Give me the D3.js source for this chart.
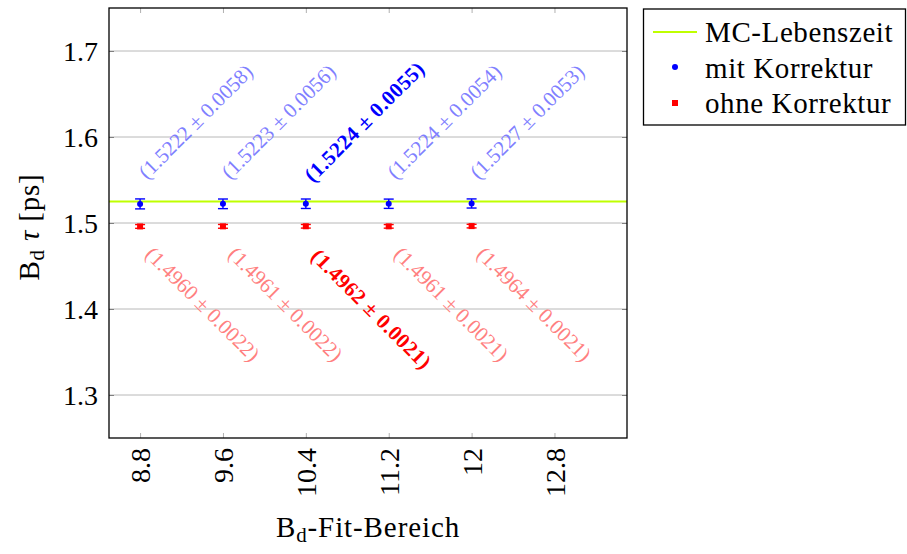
<!DOCTYPE html>
<html><head><meta charset="utf-8">
<script src="https://cdn.jsdelivr.net/npm/d3@7"></script>
<style>body{margin:0;background:#fff}svg{display:block}</style>
</head><body><div id="c"></div>
<script>
const xValues = [8.8, 9.6, 10.4, 11.2, 12];
const withCorr = [1.5222, 1.5223, 1.5224, 1.5224, 1.5227];
const withCorrErr = [0.0058, 0.0056, 0.0055, 0.0054, 0.0053];
const withoutCorr = [1.4960, 1.4961, 1.4962, 1.4961, 1.4964];
const withoutCorrErr = [0.0022, 0.0022, 0.0021, 0.0021, 0.0021];
const mcLifetime = 1.525;
const highlightIndex = 2;
const xTicks = [8.8, 9.6, 10.4, 11.2, 12, 12.8];
const yTicks = [1.3, 1.4, 1.5, 1.6, 1.7];
const legendLabels = ["MC-Lebenszeit", "mit Korrektur", "ohne Korrektur"];

const FONT = "'Liberation Serif', 'DejaVu Serif', 'Times New Roman', serif";
const W = 907, H = 554;
const L = 109, R = 627, T = 8, B = 438;
const svg = d3.select("#c").append("svg").attr("width", W).attr("height", H)
  .attr("font-family", FONT).style("font-family", FONT);
const x = d3.scaleLinear().domain([8.5, 13.5]).range([L, R]);
const y = d3.scaleLinear().domain([1.25, 1.75]).range([B, T]);

// grid
svg.append("g").selectAll("line").data(yTicks).join("line")
  .attr("x1", L).attr("x2", R).attr("y1", d => y(d)).attr("y2", d => y(d))
  .attr("stroke", "#b8b8b8").attr("stroke-width", 1);

// axes ticks (inner, gray)
const yAxL = d3.axisLeft(y).tickValues(yTicks).tickSize(-5).tickFormat(d3.format(".1f")).tickPadding(12);
const gy = svg.append("g").attr("transform", `translate(${L},0)`).call(yAxL);
gy.attr("font-family", FONT);
gy.select(".domain").remove();
gy.selectAll("line").attr("stroke", "#808080");
gy.selectAll("text").attr("font-size", 28).attr("fill", "#000").attr("x", -11).attr("dy", "0.35em")
  .style("font-family", FONT);
const gyr = svg.append("g").attr("transform", `translate(${R},0)`).call(d3.axisRight(y).tickValues(yTicks).tickSize(-5).tickFormat(""));
gyr.select(".domain").remove(); gyr.selectAll("line").attr("stroke", "#808080");

const gx = svg.append("g").attr("transform", `translate(0,${B})`)
  .call(d3.axisBottom(x).tickValues(xTicks).tickSize(-5).tickFormat(d => d3.format("")(d)));
gx.attr("font-family", FONT);
gx.select(".domain").remove();
gx.selectAll("line").attr("stroke", "#b0b0b0");
gx.selectAll("text").attr("font-size", 28).attr("fill", "#000").style("font-family", FONT)
  .attr("transform", "rotate(-90)").attr("text-anchor", "end")
  .attr("x", -10).attr("y", 0).attr("dy", "0.35em");
const gxt = svg.append("g").attr("transform", `translate(0,${T})`)
  .call(d3.axisTop(x).tickValues(xTicks).tickSize(-5).tickFormat(""));
gxt.select(".domain").remove(); gxt.selectAll("line").attr("stroke", "#b0b0b0");

// MC line
svg.append("line").attr("x1", L).attr("x2", R).attr("y1", y(mcLifetime)).attr("y2", y(mcLifetime))
  .attr("stroke", "#bfff00").attr("stroke-width", 2.2);

// error bars
function errBars(vals, errs, color, cap) {
  const g = svg.append("g").attr("stroke", color).attr("stroke-width", 1.4);
  xValues.forEach((xv, i) => {
    const cx = x(xv), y0 = y(vals[i] - errs[i]), y1 = y(vals[i] + errs[i]);
    g.append("line").attr("x1", cx).attr("x2", cx).attr("y1", y0).attr("y2", y1);
    g.append("line").attr("x1", cx - cap).attr("x2", cx + cap).attr("y1", y0).attr("y2", y0);
    g.append("line").attr("x1", cx - cap).attr("x2", cx + cap).attr("y1", y1).attr("y2", y1);
  });
}
errBars(withCorr, withCorrErr, "#0000ff", 5);
errBars(withoutCorr, withoutCorrErr, "#ff0000", 5);
svg.append("g").selectAll("circle").data(withCorr).join("circle")
  .attr("cx", (d, i) => x(xValues[i])).attr("cy", d => y(d)).attr("r", 3).attr("fill", "#0000ff");
svg.append("g").selectAll("rect").data(withoutCorr).join("rect")
  .attr("x", (d, i) => x(xValues[i]) - 3).attr("y", d => y(d) - 3).attr("width", 6).attr("height", 6).attr("fill", "#ff0000");

// annotations
const fmt4 = d3.format(".4f");
xValues.forEach((xv, i) => {
  const hi = i === highlightIndex;
  const bx = x(xv) + 7, by = y(1.5555) + (hi ? 8 : 5);
  svg.append("text").attr("transform", `translate(${bx},${by}) rotate(-45)`)
    .attr("font-size", 21).attr("font-weight", hi ? "bold" : "normal")
    .attr("letter-spacing", hi ? 0.5 : 0)
    .attr("fill", hi ? "#0000ff" : "#8080ff")
    .text(`(${fmt4(withCorr[i])} ± ${fmt4(withCorrErr[i])})`);
  const rx = x(xv) + 4, ry = y(1.4715) + (hi ? 10 : 8);
  svg.append("text").attr("transform", `translate(${rx},${ry}) rotate(45)`)
    .attr("font-size", 21).attr("font-weight", hi ? "bold" : "normal")
    .attr("letter-spacing", hi ? 0.5 : 0)
    .attr("fill", hi ? "#ff0000" : "#ff8080")
    .text(`(${fmt4(withoutCorr[i])} ± ${fmt4(withoutCorrErr[i])})`);
});

// frame
svg.append("rect").attr("x", L).attr("y", T).attr("width", R - L).attr("height", B - T)
  .attr("fill", "none").attr("stroke", "#000").attr("stroke-width", 1.3);

// axis titles
const yl = svg.append("text").attr("transform", `translate(39,227) rotate(-90)`)
  .attr("text-anchor", "middle").attr("font-size", 29).attr("letter-spacing", 0.8);
yl.append("tspan").text("B");
yl.append("tspan").attr("dy", 5).attr("font-size", 21).text("d");
yl.append("tspan").attr("dy", -5).attr("font-style", "italic").text("  τ");
yl.append("tspan").text(" [ps]");

const xl = svg.append("text").attr("x", (L + R) / 2).attr("y", 537)
  .attr("text-anchor", "middle").attr("font-size", 29).attr("letter-spacing", 0.9);
xl.append("tspan").text("B");
xl.append("tspan").attr("dy", 5).attr("font-size", 21).text("d");
xl.append("tspan").attr("dy", -5).text("-Fit-Bereich");

// legend
const lg = svg.append("g");
lg.append("rect").attr("x", 643.5).attr("y", 9).attr("width", 262).attr("height", 116)
  .attr("fill", "#fff").attr("stroke", "#000").attr("stroke-width", 1.3);
lg.append("line").attr("x1", 653).attr("x2", 697).attr("y1", 32).attr("y2", 32)
  .attr("stroke", "#bfff00").attr("stroke-width", 2.2);
lg.append("circle").attr("cx", 675).attr("cy", 67).attr("r", 3).attr("fill", "#0000ff");
lg.append("rect").attr("x", 672).attr("y", 100).attr("width", 6).attr("height", 6).attr("fill", "#ff0000");
lg.selectAll("text.l").data(legendLabels).join("text").attr("class", "l")
  .attr("x", 705).attr("y", (d, i) => 32 + i * 35.5).attr("dy", "0.35em")
  .attr("font-size", 29).attr("letter-spacing", 0.6).text(d => d);
</script></body></html>
